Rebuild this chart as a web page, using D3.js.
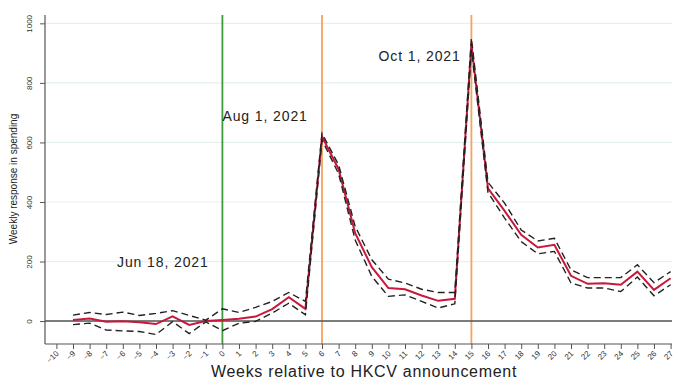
<!DOCTYPE html>
<html>
<head>
<meta charset="utf-8">
<script src="https://cdn.jsdelivr.net/npm/d3@7"></script>
<style>
  html, body { margin: 0; padding: 0; background: #fff; }
  svg { display: block; font-family: "Liberation Sans", Arial, sans-serif; }
</style>
</head>
<body>
<svg id="chart" width="674" height="379"></svg>
<script>
// Event-study estimates: weekly spending response relative to the HKCV announcement
const weeks = [-9,-8,-7,-6,-5,-4,-3,-2,-1,0,1,2,3,4,5,6,7,8,9,10,11,12,13,14,15,16,17,18,19,20,21,22,23,24,25,26,27];
const estimate = [4,9,-2,-1,-4,-10,16,-13,0,4,8,15,40,80,41,620,510,295,181,111,107,86,68,75,930,446,370,290,247,256,152,125,127,122,166,105,144];
const upperCI  = [20,29,22,30,19,26,35,19,3,41,29,46,66,96,66,630,525,318,206,141,128,107,96,96,950,466,396,306,269,278,172,146,146,146,189,129,166];
const lowerCI  = [-12,-7,-30,-33,-35,-45,-2,-42,-3,-32,-7,-1,27,60,21,608,495,272,150,83,88,66,44,58,912,432,346,267,226,234,128,111,111,99,148,85,122];

const xTicks = d3.range(-10, 28);
const yTicks = [0, 200, 400, 600, 800, 1000];

// Reference events: week index, label, colour, label anchor (data units)
const events = [
  { week: 0,  label: "Jun 18, 2021", color: "#3d9a3d", lx: -6.35, ly: 180 },
  { week: 6,  label: "Aug 1, 2021",  color: "#f5a35f", lx: 0.0,   ly: 673 },
  { week: 15, label: "Oct 1, 2021",  color: "#f5a35f", lx: 9.4,   ly: 875 }
];

const svg = d3.select("#chart");
const plotLeft = 45, plotRight = 672, plotTop = 15, plotBottom = 344;

const x = d3.scaleLinear().domain([-10, 27]).range([56.4, 670.6]);
const y = d3.scaleLinear().domain([-77, 1028]).range([plotBottom, plotTop]);

// Horizontal grid
svg.append("g").selectAll("line").data(yTicks).join("line")
  .attr("x1", plotLeft).attr("x2", plotRight)
  .attr("y1", d => y(d)).attr("y2", d => y(d))
  .attr("stroke", "#e6eff1").attr("stroke-width", 1.2);

// Event markers
svg.append("g").selectAll("line").data(events).join("line")
  .attr("x1", d => x(d.week)).attr("x2", d => x(d.week))
  .attr("y1", plotTop).attr("y2", plotBottom)
  .attr("stroke", d => d.color).attr("stroke-width", 1.8);

// Zero reference line
svg.append("line")
  .attr("x1", plotLeft).attr("x2", plotRight)
  .attr("y1", y(0)).attr("y2", y(0))
  .attr("stroke", "#555").attr("stroke-width", 1.5);

const line = d3.line().x(d => x(d[0])).y(d => y(d[1]));

// Point estimate
svg.append("path")
  .datum(weeks.map((w, i) => [w, estimate[i]]))
  .attr("d", line).attr("fill", "none")
  .attr("stroke", "#c8183c").attr("stroke-width", 2);

// Confidence bounds
[upperCI, lowerCI].forEach(series => {
  svg.append("path")
    .datum(weeks.map((w, i) => [w, series[i]]))
    .attr("d", line).attr("fill", "none")
    .attr("stroke", "#222").attr("stroke-width", 1.4)
    .attr("stroke-dasharray", "7,4");
});

// Axes
const yAxis = svg.append("g").attr("transform", `translate(${plotLeft},0)`)
  .call(d3.axisLeft(y).tickValues(yTicks).tickFormat(d3.format("d")).tickSize(5).tickSizeOuter(0));
yAxis.select(".domain").attr("d", `M0,${plotTop}V${plotBottom}`).attr("stroke", "#555").attr("stroke-width", 1.2);
yAxis.selectAll(".tick line").attr("stroke", "#555");
yAxis.selectAll(".tick text")
  .attr("font-size", 8).attr("fill", "#333")
  .attr("transform", "rotate(-90)")
  .attr("x", 0).attr("y", -13).attr("dy", "0")
  .attr("text-anchor", "middle");

const xAxis = svg.append("g").attr("transform", `translate(0,${plotBottom})`)
  .call(d3.axisBottom(x).tickValues(xTicks).tickSize(5).tickSizeOuter(0));
xAxis.select(".domain").attr("d", `M${plotLeft},0H${plotRight}`).attr("stroke", "#555").attr("stroke-width", 1.2);
xAxis.selectAll(".tick line").attr("stroke", "#555");
xAxis.selectAll(".tick text")
  .attr("font-size", 8).attr("fill", "#333")
  .attr("text-anchor", "end")
  .attr("dy", "0")
  .attr("transform", "translate(2.5,10) rotate(-45)")
  .attr("x", 0).attr("y", 0);

// Axis titles
svg.append("text")
  .attr("transform", `translate(17,179) rotate(-90)`)
  .attr("text-anchor", "middle").attr("font-size", 10).attr("fill", "#222")
  .text("Weekly response in spending");

svg.append("text")
  .attr("x", 364).attr("y", 377)
  .attr("text-anchor", "middle").attr("font-size", 16).attr("fill", "#222")
  .attr("letter-spacing", 0.7)
  .text("Weeks relative to HKCV announcement");

// Event labels
svg.append("g").selectAll("text").data(events).join("text")
  .attr("x", d => x(d.lx)).attr("y", d => y(d.ly))
  .attr("font-size", 14).attr("fill", "#222")
  .attr("letter-spacing", 0.9)
  .text(d => d.label);
</script>
</body>
</html>
